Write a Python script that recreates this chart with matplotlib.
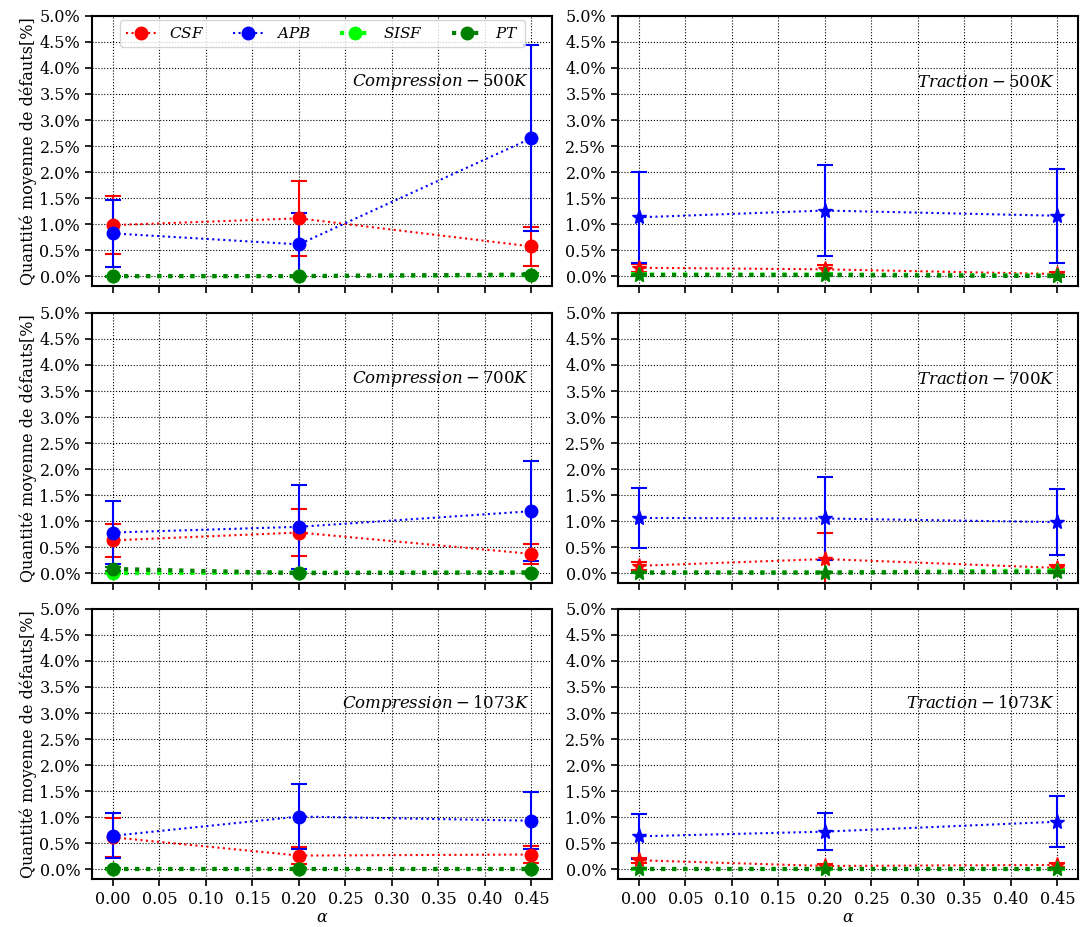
import matplotlib
matplotlib.use("Agg")
import matplotlib.pyplot as plt
from matplotlib.ticker import PercentFormatter, MultipleLocator, FormatStrFormatter

plt.rcParams["font.family"] = "DejaVu Serif"
plt.rcParams["mathtext.fontset"] = "dejavuserif"

alpha = [0.0, 0.20, 0.45]
panel_titles = ["Compression - 500K", "Traction - 500K",
                "Compression - 700K", "Traction - 700K",
                "Compression - 1073K", "Traction - 1073K"]
defect_names = ["CSF", "APB", "SISF", "PT"]

# mean defect fraction [%] per panel, one list per defect type
csf_mean = [[0.98, 1.11, 0.57], [0.16, 0.13, 0.04],
            [0.63, 0.78, 0.37], [0.14, 0.27, 0.10],
            [0.61, 0.26, 0.28], [0.17, 0.06, 0.08]]
csf_err = [[0.56, 0.72, 0.37], [0.08, 0.09, 0.04],
           [0.32, 0.46, 0.19], [0.08, 0.51, 0.05],
           [0.37, 0.16, 0.16], [0.05, 0.04, 0.04]]

apb_mean = [[0.82, 0.61, 2.65], [1.13, 1.26, 1.16],
            [0.78, 0.89, 1.19], [1.06, 1.05, 0.98],
            [0.64, 1.01, 0.93], [0.63, 0.72, 0.91]]
apb_err = [[0.65, 0.60, 1.79], [0.88, 0.88, 0.90],
           [0.61, 0.81, 0.96], [0.58, 0.80, 0.63],
           [0.43, 0.62, 0.55], [0.43, 0.36, 0.49]]

sisf_mean = [[0.0, 0.0, 0.02], [0.03, 0.03, 0.01],
             [0.0, 0.01, 0.01], [0.01, 0.01, 0.05],
             [0.0, 0.0, 0.0], [0.0, 0.0, 0.0]]
sisf_err = [[0.01, 0.01, 0.02], [0.02, 0.02, 0.01],
            [0.01, 0.01, 0.01], [0.01, 0.01, 0.03],
            [0.01, 0.01, 0.01], [0.01, 0.01, 0.01]]

pt_mean = [[0.0, 0.0, 0.03], [0.02, 0.02, 0.0],
           [0.08, 0.0, 0.01], [0.01, 0.01, 0.02],
           [0.01, 0.01, 0.01], [0.01, 0.01, 0.01]]
pt_err = [[0.01, 0.01, 0.02], [0.01, 0.02, 0.01],
          [0.03, 0.01, 0.01], [0.01, 0.01, 0.01],
          [0.01, 0.01, 0.01], [0.01, 0.01, 0.01]]

colors = ["red", "blue", "lime", "green"]
widths = [1.5, 1.5, 3.0, 3.0]

fig = plt.figure(figsize=(10.83, 9.27), dpi=100)
lefts = [0.085, 0.5706]
width = 0.4250
bottoms = [0.6915, 0.3711, 0.0518]
height = 0.2913

for i in range(6):
    row, col = divmod(i, 2)
    ax = fig.add_axes([lefts[col], bottoms[row], width, height])
    marker = "o" if col == 0 else "*"
    ms = 9 if col == 0 else 11
    series = [(csf_mean[i], csf_err[i]), (apb_mean[i], apb_err[i]),
              (sisf_mean[i], sisf_err[i]), (pt_mean[i], pt_err[i])]
    handles = []
    for (mean, err), name, c, lw in zip(series, defect_names, colors, widths):
        cont = ax.errorbar(alpha, mean, yerr=err, color=c, marker=marker, ms=ms,
                           ls=":", lw=lw, elinewidth=1.5, capsize=6, capthick=1.5)
        cont[0].set_label(f"${name}$")
        handles.append(cont[0])
    ax.set_ylim(-0.19, 5.0)
    ax.yaxis.set_major_locator(MultipleLocator(0.5))
    ax.yaxis.set_major_formatter(PercentFormatter(100, decimals=1))
    ax.xaxis.set_major_locator(MultipleLocator(0.05))
    ax.xaxis.set_major_formatter(FormatStrFormatter("%.2f"))
    ax.tick_params(labelsize=11.5, length=5, width=1.2)
    ax.grid(True, color="black", ls=":", lw=0.8)
    for s in ax.spines.values():
        s.set_linewidth(1.5)
    if col == 0:
        ax.set_ylabel("Quantité moyenne de défauts[%]", fontsize=11.5, labelpad=2)
    if row < 2:
        ax.tick_params(labelbottom=False)
    else:
        ax.set_xlabel(r"$\alpha$", fontsize=11.5, labelpad=1)
    name, temp = panel_titles[i].split(" - ")
    ytxt = 0.755 if row < 2 else 0.65
    ax.text(0.95, ytxt, f"${name}-{temp}$", transform=ax.transAxes,
            ha="right", va="center", fontsize=12)
    if i == 0:
        ax.legend(handles=handles, ncol=4, loc="upper left",
                  bbox_to_anchor=(0.06, 0.985, 0.88, 0.0),
                  mode="expand", fontsize=11, handlelength=2.0, borderaxespad=0.0)

plt.savefig("out.png", dpi=100)
